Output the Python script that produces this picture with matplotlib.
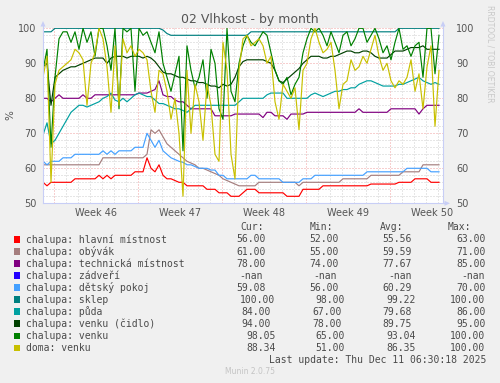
import numpy as np
import matplotlib
matplotlib.use("Agg")
import matplotlib.pyplot as plt
from matplotlib.lines import Line2D
from matplotlib.patches import Polygon, Rectangle

# ---------------- data (8-hour samples over the month) ----------------
hours = np.arange(100) * 8

hlavni = [56, 55, 56, 56, 56, 56, 56, 56, 57, 57, 57, 57, 57, 57, 58, 57, 58, 57, 58, 58,
          58, 58, 58, 59, 59, 59, 63, 60, 59, 61, 58, 57, 57, 56.5, 56, 56, 55, 55, 55, 55,
          55, 54, 54, 54, 53, 53, 53, 52, 52, 52, 53, 54, 54, 54, 53, 53, 53, 53, 53, 53,
          53, 52, 52, 52, 52, 54, 54, 54, 54, 54, 55, 55, 55, 55, 55, 55, 55, 55, 55, 55,
          55, 55, 55.5, 55.5, 55.5, 55.5, 55.5, 55.5, 55.5, 56, 56, 56, 56, 57, 57, 57, 57, 56, 56, 56]
obyvak = [61] * 15 + [63] * 11 + [64, 71, 70, 71, 69, 67, 66, 65, 64, 63, 62, 61.5, 61, 60,
          60, 59.5, 59, 58.5, 58, 57, 56.5, 56, 55.5, 55, 55, 55, 55, 55] + [56] * 10 + [55] \
         + [56] * 10 + [57] * 7 + [58] * 8 + [59] * 5 + [61] * 5
technicka = [80, 80, 79, 80, 81, 80, 80, 80, 80, 80, 81, 80, 80] + [81] * 11 + \
            [81.5, 81.5, 81.5, 82, 82.5, 85, 81, 80.5, 80.5, 79.5, 79, 79, 78] + [77] * 6 + \
            [75] * 5 + [75.5] * 7 + [74.5, 76, 76, 75, 75, 75, 74, 75.5, 75.5, 75.5, 75.5] + \
            [76] * 13 + [77] + [76] * 7 + [77] * 7 + [75.5, 77] + [78] * 4
zadveri = [np.nan] * 100
detsky = [62, 61, 62, 62, 62, 63, 63, 63, 64, 64, 64, 64, 64, 64, 64, 65, 64, 65, 64, 65,
          65, 65, 65, 66, 66, 66, 70, 68, 66, 68, 65, 64, 63, 62.5, 62, 61.7, 61, 61, 60.5, 60,
          60, 60, 59.5, 59.5, 58, 58, 57, 57, 57, 57, 57, 57, 58, 58] + [57] * 6 + [56] * 5 + \
         [57] * 3 + [58] * 13 + [59] * 10 + [60] * 6 + [59] * 3
sklep = [99] * 3 + [100] * 27 + [99.5, 98.5] + [98] * 20 + [99] * 37 + [100] * 11
puda = [69.5, 73, 67, 68, 70, 72, 74, 76, 77, 78, 78, 77.5, 78, 78.5, 79, 80, 80.5, 81.5, 79.5, 79,
        80, 79, 80, 81, 81.5, 81, 80.5, 80.5, 79.5, 78.5, 78.5, 78, 77.5, 77, 77, 76.5, 76, 77, 78, 78,
        78, 78, 78, 78, 78, 78, 78, 78, 78, 79, 80, 80, 80, 80, 80, 80, 81, 81.5, 81.5, 81.5,
        81.5, 80, 80, 80, 80, 80, 80, 81, 81.5, 81, 80.5, 81, 81.5, 82, 82, 82.5, 82.5, 83, 83, 84,
        84.5, 85, 85, 84.5, 84, 83.5, 83.5, 83.5, 83.5, 84, 84, 84.5, 85, 85.5, 86, 85, 84.5, 84, 84.5, 84]
venku_cidlo = [89, 90, 78, 86, 87, 88, 88.5, 89, 89, 89.5, 90, 90.5, 91, 91.5, 91.5, 91.5, 90, 91.5, 92, 92,
               92, 91.5, 92, 92, 92, 91.5, 92, 91.5, 90.5, 89, 87.5, 87, 87, 86.5, 86, 86, 85.5, 85, 85, 84.5,
               84.5, 84, 83.5, 83.5, 83, 84, 83.5, 84, 86, 89, 90.5, 91, 91, 91, 91, 91, 90.5, 90, 88, 85,
               84.5, 85.5, 86.5, 87.5, 88.5, 90, 91, 92, 92, 92, 91.5, 91.5, 92, 92, 92.5, 93, 93.5, 93.5, 93, 93,
               93.5, 93.5, 93, 92, 91.5, 91.5, 91.5, 92.5, 93.5, 93.5, 93.5, 94, 94.5, 94.5, 94.5, 95, 94, 94, 94, 94]
venku = [88, 94, 66, 86, 97, 99, 99, 96, 99, 94, 100, 96, 99, 92, 100, 100, 95, 88, 100, 77,
         100, 99, 100, 82, 100, 98, 99, 96, 93, 99, 90, 86, 82, 87, 92, 65, 95, 88, 83, 86,
         91, 80, 94, 90, 77, 74, 100, 82, 79, 90, 95, 98, 96, 95, 97, 99, 98, 93, 88, 85,
         84, 86, 81, 84, 86, 93, 97, 100, 99, 100, 98, 95, 99, 96, 93, 98, 99, 95, 97, 100,
         100, 96, 98, 100, 97, 93, 95, 91, 96, 100, 94, 95, 92, 95, 96, 86, 100, 100, 87, 98]
doma = [86, 92, 56, 84, 88, 89, 90, 91, 94, 93, 91, 78, 90, 93, 100, 97, 89, 76, 95, 78,
        97, 93, 95, 92, 94, 93, 91, 82, 76, 88, 87, 82, 74, 80, 70, 52, 88, 70, 84, 79,
        68, 84, 78, 64, 62, 96, 88, 64, 57, 88, 97, 98, 95, 96, 97, 95, 90, 92, 79, 74,
        84, 82, 80, 83, 71, 88, 90, 97, 100, 96, 93, 94, 96, 88, 77, 84, 85, 91, 88, 89,
        92, 90, 94, 98, 92, 88, 90, 85, 83, 85, 84, 86, 91, 82, 87, 77, 89, 95, 72, 88]

series_names = ["chalupa: hlavní místnost", "chalupa: obývák", "chalupa: technická místnost",
                "chalupa: zádveří", "chalupa: dětský pokoj", "chalupa: sklep", "chalupa: půda",
                "chalupa: venku (čidlo)", "chalupa: venku", "doma: venku"]
series_values = [hlavni, obyvak, technicka, zadveri, detsky, sklep, puda, venku_cidlo, venku, doma]
series_colors = ["#FF0000", "#A57E7E", "#800080", "#2200FF", "#44A0FF", "#008080", "#00A0A0",
                 "#004000", "#008000", "#C8C000"]
cur_vals = ["56.00", "61.00", "78.00", "-nan", "59.08", "100.00", "84.00", "94.00", "98.05", "88.34"]
min_vals = ["52.00", "55.00", "74.00", "-nan", "56.00", "98.00", "67.00", "78.00", "65.00", "51.00"]
avg_vals = ["55.56", "59.59", "77.67", "-nan", "60.29", "99.22", "79.68", "89.75", "93.04", "86.35"]
max_vals = ["63.00", "71.00", "85.00", "-nan", "70.00", "100.00", "86.00", "95.00", "100.00", "100.00"]

week_labels = ["Week 46", "Week 47", "Week 48", "Week 49", "Week 50"]
week_centers = [106, 274, 442, 610, 778]       # hours from left edge
week_starts = [22, 190, 358, 526, 694]
y_ticks = [50, 60, 70, 80, 90, 100]

title = "02 Vlhkost - by month"
last_update = "Last update: Thu Dec 11 06:30:18 2025"

# ---------------- figure ----------------
W, H = 500, 383
fig = plt.figure(figsize=(W / 100, H / 100), dpi=100, facecolor="#F0F0F0")
fx = lambda x: x / W
fy = lambda y: 1 - y / H

TXT = "#555555"
ax = fig.add_axes([fx(43), fy(203.3), 400 / W, 175 / H])
ax.set_facecolor("white")
ax.set_xlim(0, 800)
ax.set_ylim(50, 100)
for s in ax.spines.values():
    s.set_visible(False)

dot = (0, (1, 2))
MIN_C, MAJ_C = "#CFCFCF", "#F0A0A0"
for v in range(52, 100, 2):
    if v % 10:
        ax.axhline(v, color=MIN_C, lw=0.72, ls=dot, zorder=0)
for v in y_ticks[1:]:
    ax.axhline(v, color=MAJ_C, lw=0.72, ls=dot, zorder=0.5)
for h in range(22, 800, 24):
    if h not in week_starts:
        ax.axvline(h, color=MIN_C, lw=0.72, ls=dot, zorder=0)
for h in week_starts:
    ax.axvline(h, color=MAJ_C, lw=0.72, ls=dot, zorder=0.5)

for vals, col in zip(series_values, series_colors):
    ax.plot(hours, vals, color=col, lw=0.85, zorder=2, solid_joinstyle="round")

ax.set_xticks(week_centers)
ax.set_xticklabels(week_labels)
ax.tick_params(axis="x", length=0, pad=3.5, labelsize=7, colors=TXT)
ax.set_yticks(y_ticks)
ax.tick_params(axis="y", length=0, pad=4.5, labelsize=7, colors=TXT)

ax2 = ax.twinx()
ax2.set_ylim(50, 100)
for s in ax2.spines.values():
    s.set_visible(False)
ax2.set_yticks(y_ticks)
ax2.tick_params(axis="y", length=0, pad=9.5, labelsize=7, colors=TXT)

# axes lines and arrows
AX_C = "#C8CEF6"
fig.add_artist(Line2D([fx(43), fx(43)], [fy(203.3), fy(24)], color=AX_C, lw=0.8))
fig.add_artist(Line2D([fx(443), fx(443)], [fy(203.3), fy(24)], color=AX_C, lw=0.8))
fig.add_artist(Line2D([fx(43), fx(447)], [fy(203.3), fy(203.3)], color=AX_C, lw=0.8))
for x in (43, 443):
    fig.add_artist(Polygon([[fx(x - 2.5), fy(26.5)], [fx(x + 2.5), fy(26.5)], [fx(x), fy(21)]],
                           closed=True, color=AX_C, lw=0))
fig.add_artist(Polygon([[fx(444.5), fy(200.8)], [fx(444.5), fy(205.8)], [fx(450), fy(203.3)]],
                       closed=True, color=AX_C, lw=0))

# texts
fig.text(0.5, fy(19), title, ha="center", va="center", fontsize=9, color=TXT)
fig.text(fx(10), fy(115), "%", ha="center", va="center", rotation=90, fontsize=7.5, color=TXT)
fig.text(fx(490), fy(5), "RRDTOOL / TOBI OETIKER", ha="center", va="top", rotation=270,
         fontsize=5.5, color="#C8C8C8")

MONO = "DejaVu Sans Mono"
LEG = "#4A4A4A"
hy = 227.3
for lab, x in zip(["Cur:", "Min:", "Avg:", "Max:"], [240.7, 310, 380, 448.3]):
    fig.text(fx(x - 0.5), fy(hy), lab, ha="left", va="center", fontsize=7, family=MONO, color=LEG)

cur_x = [237.3, 237.3, 237.3, 239.3, 237.3, 240.7, 241.7, 241.7, 246.7, 246.7]
min_x = [310, 310, 310, 313.3, 310, 316, 313.3, 313.3, 316, 316]
avg_x = [383.3, 383.3, 383.3, 388.3, 383.3, 386.7, 383.3, 383.3, 386.7, 386.7]
max_x = [456.7, 456.7, 456.7, 461.7, 456.7, 450, 456.7, 456.7, 450, 450]
for k, (name, col) in enumerate(zip(series_names, series_colors)):
    y = 239.5 + 12.04 * k
    fig.add_artist(Rectangle((fx(13.7), fy(y + 3.2)), 6.5 / W, 6.5 / H, color=col, lw=0))
    fig.text(fx(26.5), fy(y), name, ha="left", va="center", fontsize=7, family=MONO, color=LEG)
    for vals, xs in ((cur_vals, cur_x), (min_vals, min_x), (avg_vals, avg_x), (max_vals, max_x)):
        fig.text(fx(xs[k] - 0.5), fy(y), vals[k], ha="left", va="center", fontsize=7,
                 family=MONO, color=LEG)

fig.text(fx(486), fy(360), last_update, ha="right", va="center", fontsize=7, family=MONO, color=LEG)
fig.text(0.5, fy(371.7), "Munin 2.0.75", ha="center", va="center", fontsize=5.5, color="#C4C4C4")

fig.savefig("out.png", dpi=100, facecolor=fig.get_facecolor())
